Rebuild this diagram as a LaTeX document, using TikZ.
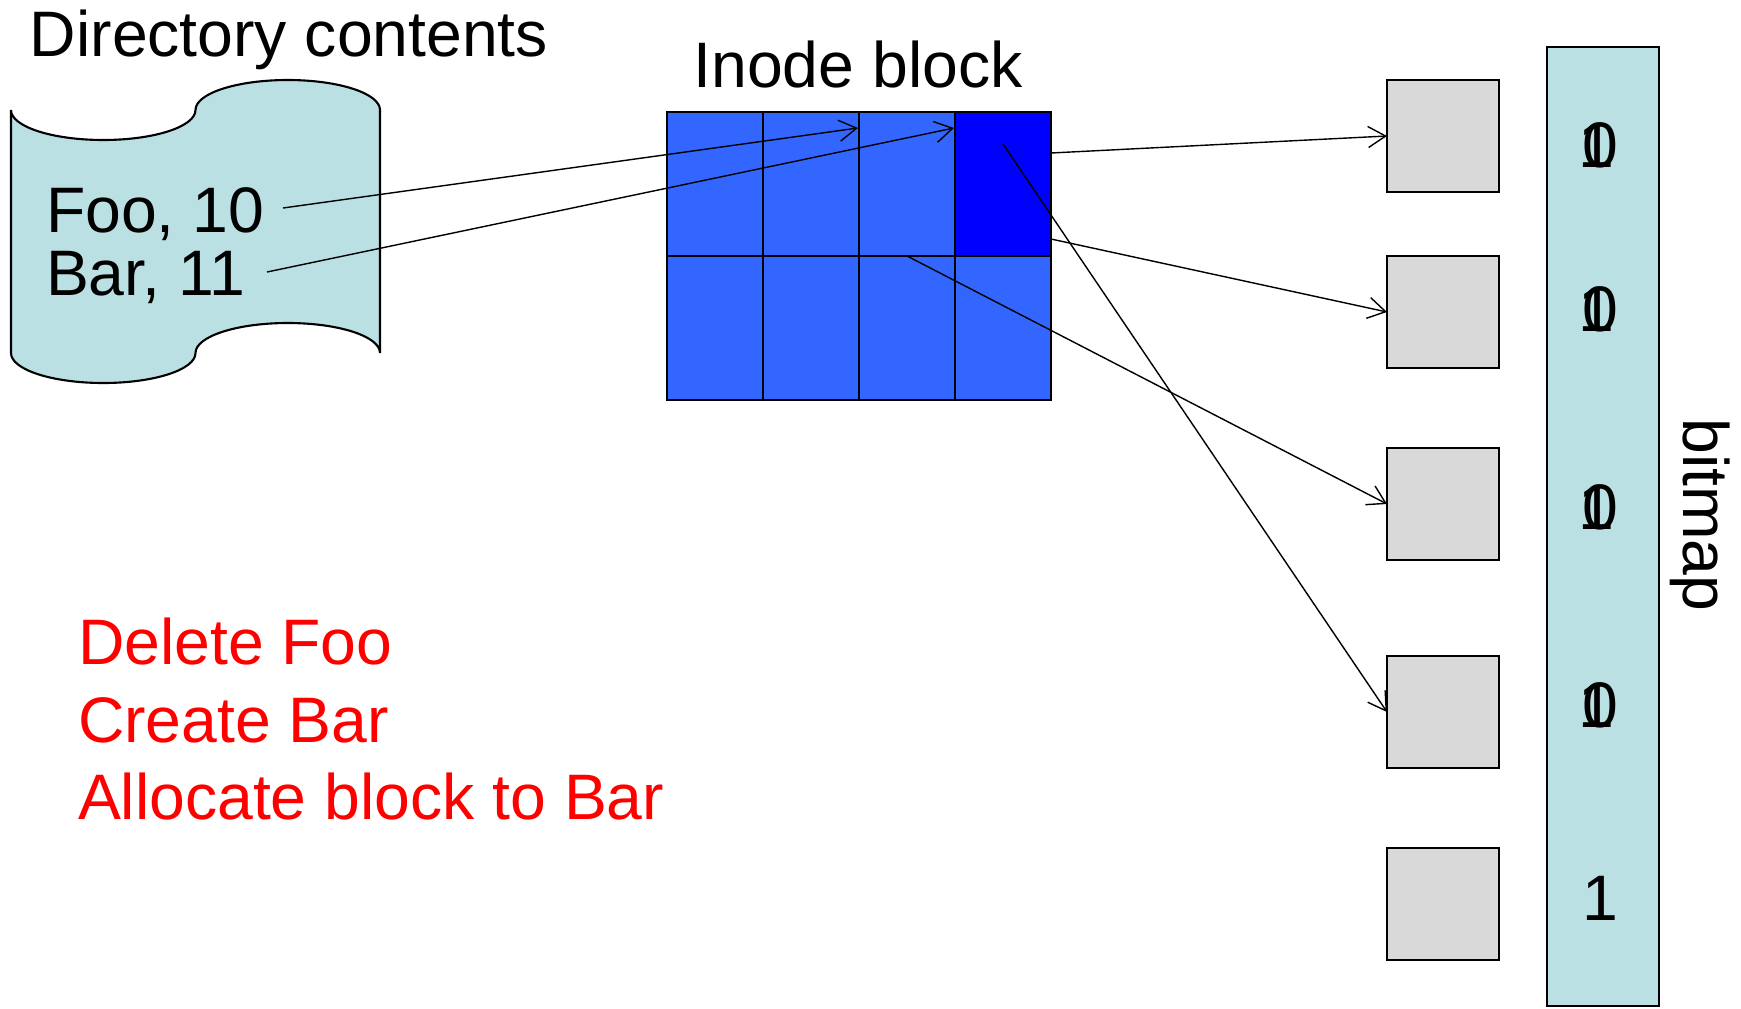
\documentclass[tikz,border=0pt]{standalone}
\usepackage{fontspec}
\setmainfont{Liberation Sans}
\usetikzlibrary{arrows.meta,calc}
\definecolor{paleteal}{HTML}{BBE0E3}
\definecolor{cellblue}{HTML}{3366FF}
\definecolor{hotblue}{HTML}{0000FF}
\definecolor{blockgray}{HTML}{D9D9D9}
\definecolor{notered}{HTML}{FF0000}
% a bit shown as 0 and 1 on top of each other
\newcommand{\bothbits}{\rlap{0}\rlap{\kern-2.3pt 1}\phantom{0}}

\begin{document}
\begin{tikzpicture}[x=0.02cm,y=-0.02cm,
  txt/.style={font=\fontsize{36.6}{44}\selectfont, inner sep=0pt, outer sep=0pt},
  redtxt/.style={txt, text=notered, anchor=base west},
  digit/.style={txt, anchor=base},
  cell/.style={draw=black, line width=1.1pt, fill=cellblue,
    minimum width=1.92cm, minimum height=2.88cm, inner sep=0pt, outer sep=0pt},
  diskblock/.style={draw=black, line width=1.2pt, fill=blockgray,
    minimum size=2.24cm, inner sep=0pt, outer sep=0pt},
  ptr/.style={line width=0.8pt, -{Straight Barb[length=10pt,width=12pt]}},
]
\useasboundingbox (0,0) rectangle (1741,1008);

% directory contents drawn as a punched-tape scroll
\path[draw=black, line width=1.2pt, fill=paleteal]
  (11,110) .. controls (11,126.6) and (52.3,140) .. (103.25,140)
  .. controls (154.2,140) and (195.5,126.6) .. (195.5,110)
  .. controls (195.5,93.4) and (236.8,80) .. (287.75,80)
  .. controls (338.7,80) and (380,93.4) .. (380,110)
  -- (380,353)
  .. controls (380,336.4) and (338.7,323) .. (287.75,323)
  .. controls (236.8,323) and (195.5,336.4) .. (195.5,353)
  .. controls (195.5,369.6) and (154.2,383) .. (103.25,383)
  .. controls (52.3,383) and (11,369.6) .. (11,353)
  -- cycle;

\node[txt, anchor=base] (dirtitle) at (289,56) {Directory contents};
\node[txt, anchor=base west] (foo) at (46,232) {Foo, 10};
\node[txt, anchor=base west] (bar) at (46,295) {Bar, 11};

% inode block: 4 x 2 grid of inodes
\node[txt, anchor=base] (inodetitle) at (858,87) {Inode block};
\node[cell] (c11) at (715,184) {};
\node[cell] (c12) at (811,184) {};
\node[cell] (c13) at (907,184) {};
\node[cell, fill=hotblue] (c14) at (1003,184) {};
\node[cell] (c21) at (715,328) {};
\node[cell] (c22) at (811,328) {};
\node[cell] (c23) at (907,328) {};
\node[cell] (c24) at (1003,328) {};

% data blocks
\node[diskblock] (d1) at (1443,136) {};
\node[diskblock] (d2) at (1443,312) {};
\node[diskblock] (d3) at (1443,504) {};
\node[diskblock] (d4) at (1443,712) {};
\node[diskblock] (d5) at (1443,904) {};

% free-block bitmap
\node[draw=black, line width=1.2pt, fill=paleteal, minimum width=2.24cm,
  minimum height=19.18cm, inner sep=0pt, outer sep=0pt] (bitmap) at (1603,526.5) {};
\node[txt, rotate=-90] (bitmaplabel) at (1700,515) {bitmap};
\node[digit] (b1) at (1600,167) {\bothbits};
\node[digit] (b2) at (1600,331) {\bothbits};
\node[digit] (b3) at (1600,529) {\bothbits};
\node[digit] (b4) at (1600,727) {\bothbits};
\node[digit] (b5) at (1600,920) {1};

% operations
\node[redtxt] (op1) at (78,664) {Delete Foo};
\node[redtxt] (op2) at (78,742) {Create Bar};
\node[redtxt] (op3) at (78,819) {Allocate block to Bar};

% pointer end points
\coordinate (foo-out) at (283,208);
\coordinate (bar-out) at (267,272);
\coordinate (foo-in) at (858,128);
\coordinate (bar-in) at (954,128);
\coordinate (c14-a) at (1051,153);
\coordinate (c14-b) at (1051,239);
\coordinate (c14-c) at (1003,144);

% pointers
\draw[ptr] (foo-out) -- (foo-in);
\draw[ptr] (bar-out) -- (bar-in);
\draw[ptr] (c14-a) -- (d1.west);
\draw[ptr] (c14-b) -- (d2.west);
\draw[ptr] (c13.south) -- (d3.west);
\draw[ptr] (c14-c) -- (d4.west);
\end{tikzpicture}
\end{document}
